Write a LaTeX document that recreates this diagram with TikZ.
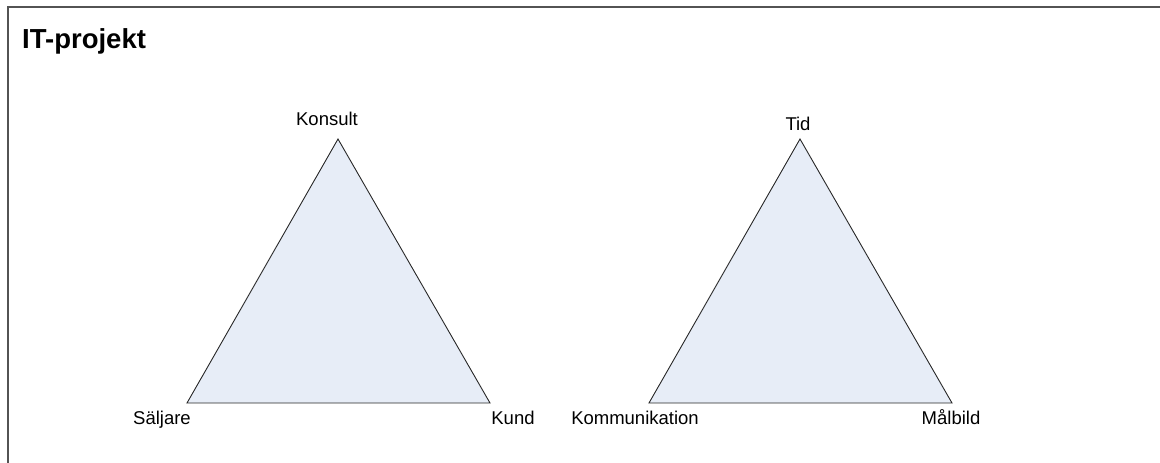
\documentclass[tikz,border=0pt]{standalone}
\usepackage{fontspec}
\setmainfont{Liberation Sans}
\usetikzlibrary{positioning, calc}
\definecolor{triFill}{RGB}{231,237,247}
\definecolor{edgeCol}{RGB}{40,40,40}
\tikzset{%
  frame/.style = {draw=edgeCol!80, line width=1.1pt},
  tri/.style = {draw=edgeCol, fill=triFill, line width=0.9pt, line join=miter},
  lbl/.style = {font=\fontsize{18.5}{22}\selectfont, anchor=base, inner sep=0pt},
  title/.style = {font=\fontsize{27.5}{32}\selectfont\bfseries, anchor=base west, inner sep=0pt}
  }

\begin{document}
\begin{tikzpicture}[x=1pt, y=-1pt]
  \useasboundingbox (0,0) rectangle (1160,463);

  % cut-off frame
  \draw[frame] (1160,7) -| (8,463);
  \node (head) [title] at (22,48) {IT-projekt};

  \begin{scope}
    \coordinate (kon) at (338,139);
    \coordinate (sal) at (187,403);
    \coordinate (kun) at (490,403);
    \path[tri] (kon) -- (sal) -- (kun) -- cycle;
    \node (konTxt) [lbl] at (327,125) {Konsult};
    \node (salTxt) [lbl] at (162,424) {Säljare};
    \node (kunTxt) [lbl] at (513,424) {Kund};
  \end{scope}

  \begin{scope}[xshift=462pt]
    \coordinate (tid) at (338,139);
    \coordinate (kom) at (187,403);
    \coordinate (mal) at (490,403);
    \path[tri] (tid) -- (kom) -- (mal) -- cycle;
    \node (tidTxt) [lbl] at (336,130) {Tid};
    \node (komTxt) [lbl] at (173,424) {Kommunikation};
    \node (malTxt) [lbl] at (489,424) {Målbild};
  \end{scope}
\end{tikzpicture}
\end{document}
